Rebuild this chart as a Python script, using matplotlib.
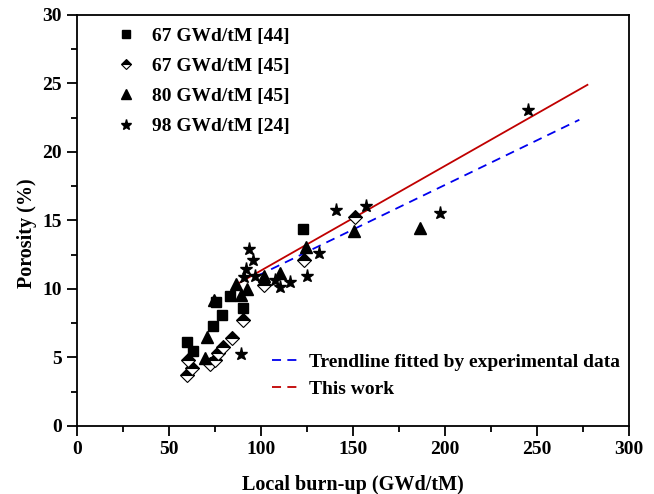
import matplotlib
matplotlib.use('Agg')
import matplotlib.pyplot as plt
from matplotlib.lines import Line2D

plt.rcParams['font.family'] = ['Liberation Serif', 'DejaVu Serif']
plt.rcParams['font.weight'] = 'bold'

# 67 GWd/tM [44]
sq_x = [60.0, 63.0, 73.8, 75.6, 78.9, 83.1, 90.0, 122.7]
sq_y = [6.15, 5.45, 7.3, 9.05, 8.1, 9.5, 8.6, 14.35]
# 67 GWd/tM [45]
dm_x = [59.7, 60.6, 62.4, 72.4, 74.8, 76.9, 79.6, 84.4, 90.2, 101.4, 123.4, 151.3]
dm_y = [3.75, 4.8, 4.2, 4.5, 4.85, 5.3, 5.8, 6.4, 7.7, 10.3, 12.1, 15.25]
# 80 GWd/tM [45]
tr_x = [69.8, 70.6, 74.4, 86.5, 89.2, 92.2, 101.4, 110.1, 124.4, 150.6, 186.2]
tr_y = [4.95, 6.47, 9.2, 10.38, 9.58, 9.98, 10.92, 11.2, 13.1, 14.2, 14.45]
# 98 GWd/tM [24]
st_x = [89.1, 90.5, 91.8, 93.5, 95.8, 96.9, 107.8, 110.5, 115.9, 125.0,
        131.7, 141.0, 157.3, 197.1, 245.1]
st_y = [5.28, 10.9, 11.45, 12.9, 12.08, 10.95, 10.66, 10.17, 10.5, 10.95,
        12.65, 15.8, 16.05, 15.55, 23.1]

# lines
trend_x = [98.0, 273.0]
trend_y = [10.95, 22.35]
work_x = [88.4, 277.4]
work_y = [10.46, 24.9]

fig = plt.figure(figsize=(6.54, 4.94), dpi=100)
ax = fig.add_axes([0.1177, 0.1377, 0.8441, 0.832])

ax.plot(work_x, work_y, color='#c00000', lw=1.3, zorder=3)
ax.plot(trend_x, trend_y, color='#0000ee', lw=1.3, ls=(0, (5, 3.5)), zorder=3)

ax.plot(sq_x, sq_y, 's', color='black', ms=7.5, ls='none', zorder=4)
ax.plot(dm_x, dm_y, 'D', color='black', markerfacecolor='black',
        markerfacecoloralt='white', fillstyle='top', mew=0.8, ms=7,
        ls='none', zorder=4)
ax.plot(tr_x, tr_y, '^', color='black', ms=8.5, ls='none', zorder=4)
ax.plot(st_x, st_y, '*', color='black', ms=9.5, ls='none', zorder=4)

ax.set_xlim(0, 300)
ax.set_ylim(0, 30)
ax.set_xticks(range(0, 301, 50))
ax.set_xticks(range(25, 300, 50), minor=True)
ax.set_yticks(range(0, 31, 5))
ax.set_yticks([2.5 + 5 * i for i in range(6)], minor=True)
ax.tick_params(which='major', direction='out', length=7, width=1.3,
               labelsize=14, top=False, right=False, pad=4)
ax.tick_params(which='minor', direction='out', length=4, width=1.3,
               top=False, right=False)
for s in ax.spines.values():
    s.set_linewidth(1.3)

ax.set_xlabel('Local burn-up (GWd/tM)', fontsize=14.5, fontweight='bold', labelpad=12)
ax.set_ylabel('Porosity (%)', fontsize=14.5, fontweight='bold')
ax.yaxis.set_label_coords(-0.072, 0.47)

h1 = [
    Line2D([], [], marker='s', color='black', ls='none', ms=6),
    Line2D([], [], marker='D', color='black', markerfacecolor='black',
           markerfacecoloralt='white', fillstyle='top', mew=0.8, ms=5.5, ls='none'),
    Line2D([], [], marker='^', color='black', ls='none', ms=7),
    Line2D([], [], marker='*', color='black', ls='none', ms=8),
]
lab1 = ['67 GWd/tM [44]', '67 GWd/tM [45]', '80 GWd/tM [45]', '98 GWd/tM [24]']
leg1 = ax.legend(h1, lab1, loc='upper left', bbox_to_anchor=(0.04, 1.012),
                 frameon=False, fontsize=14, handlelength=1.0,
                 handletextpad=0.8, labelspacing=0.64)
ax.add_artist(leg1)

h2 = [
    Line2D([], [], color='#0000ee', lw=1.3, ls=(0, (5, 3.5))),
    Line2D([], [], color='#c00000', lw=1.3, ls=(0, (5, 3.5))),
]
lab2 = ['Trendline fitted by experimental data', 'This work']
ax.legend(h2, lab2, loc='lower left', bbox_to_anchor=(0.322, 0.025),
          frameon=False, fontsize=14, handlelength=1.3,
          handletextpad=0.6, labelspacing=0.5)

fig.savefig('out.png', dpi=100)
